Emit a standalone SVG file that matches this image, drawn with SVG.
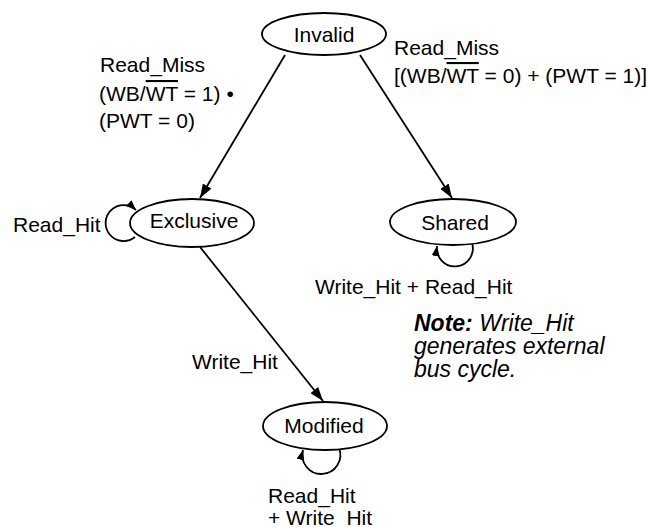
<svg xmlns="http://www.w3.org/2000/svg" width="648" height="527" viewBox="0 0 648 527">
<style>
text{font-family:"Liberation Sans",Arial,sans-serif;font-size:21px;fill:#000}
.node ellipse{fill:#fff;stroke:#000;stroke-width:1.8}
.node text{text-anchor:middle}
.edge{fill:none;stroke:#000;stroke-width:1.8}
.note{font-size:23px;font-style:italic}
.ov{text-decoration:overline}
</style>
<defs>
<marker id="arr" viewBox="0 0 14 10" refX="14" refY="5" markerWidth="14" markerHeight="10" markerUnits="userSpaceOnUse" orient="auto">
<path d="M0,0 L14,5 L0,10 z" fill="#000"/>
</marker>
<marker id="arrs" viewBox="0 0 10 8" refX="10" refY="4" markerWidth="10" markerHeight="8" markerUnits="userSpaceOnUse" orient="auto">
<path d="M0,0 L10,4 L0,8 z" fill="#000"/>
</marker>
</defs>
<rect width="648" height="527" fill="#fff"/>
<g id="connectors">
<line class="edge" x1="285" y1="55" x2="200" y2="198" marker-end="url(#arr)"/>
<line class="edge" x1="360" y1="55" x2="452" y2="198" marker-end="url(#arr)"/>
<line class="edge" x1="200" y1="247" x2="323" y2="401" marker-end="url(#arr)"/>
<path class="edge" d="M135,237 A18,18 0 1 1 136,210" marker-end="url(#arrs)"/>
<path class="edge" d="M472,243 A18,18 0 1 1 437,246" marker-end="url(#arrs)"/>
<path class="edge" d="M339,448 A19,19 0 1 1 303,450" marker-end="url(#arrs)"/>
</g>
<g id="invalid" class="node">
<ellipse cx="324" cy="34" rx="62" ry="21"/>
<text x="324" y="42">Invalid</text>
</g>
<g id="exclusive" class="node">
<ellipse cx="192" cy="223" rx="62" ry="24"/>
<text x="194" y="228">Exclusive</text>
</g>
<g id="shared" class="node">
<ellipse cx="453" cy="222" rx="63" ry="23"/>
<text x="455" y="230">Shared</text>
</g>
<g id="modified" class="node">
<ellipse cx="325" cy="426" rx="62" ry="24"/>
<text x="324" y="433">Modified</text>
</g>
<g id="labels">
<text x="100" y="72">Read_Miss</text>
<text x="99" y="101">(WB/<tspan class="ov">WT</tspan> = 1) •</text>
<text x="99" y="128">(PWT = 0)</text>
<text x="394" y="55">Read_Miss</text>
<text x="394" y="83">[(WB/<tspan class="ov">WT</tspan> = 0) + (PWT = 1)]</text>
<text x="13" y="232">Read_Hit</text>
<text x="315" y="294">Write_Hit + Read_Hit</text>
<text x="192" y="369">Write_Hit</text>
<text x="268" y="503">Read_Hit</text>
<text x="268" y="525">+ Write_Hit</text>
<text class="note" x="414" y="331"><tspan font-weight="bold">Note:</tspan> Write_Hit</text>
<text class="note" x="414" y="354">generates external</text>
<text class="note" x="414" y="377">bus cycle.</text>
</g>
</svg>
